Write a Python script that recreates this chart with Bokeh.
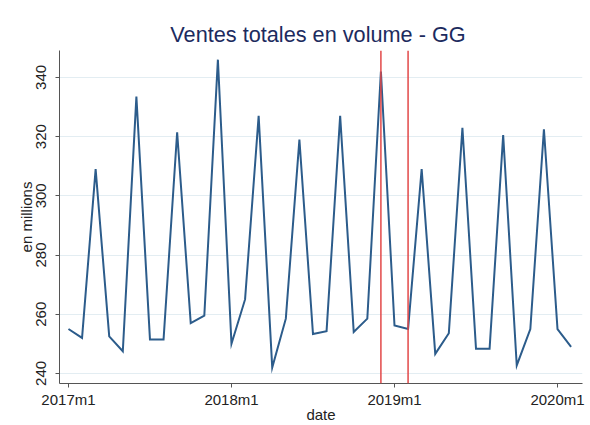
from bokeh.plotting import figure
from bokeh.models import FixedTicker, Range1d, Span
from bokeh.embed import file_html
from bokeh.resources import INLINE

# Monthly total sales volume (millions), 2017m1 .. 2020m2
month_index = list(range(38))
ventes = [255, 252, 309, 252.5, 247.5, 333.5, 251.5, 251.5, 321.5, 257, 259.5, 346,
          250, 265, 327, 242, 258.5, 319, 253.3, 254.3, 327, 254, 258.5, 342,
          256.2, 255, 309, 246.6, 253.6, 323, 248.3, 248.3, 320.5, 242.7, 255, 322.5,
          255, 249]
x_tick_pos = [0, 12, 24, 36]
x_tick_labels = ["2017m1", "2018m1", "2019m1", "2020m1"]
y_ticks = [240, 260, 280, 300, 320, 340]
event_months = [23, 25]   # 2018m12 and 2019m2

FONT = "Liberation Sans"

p = figure(width=590, height=425, output_backend="svg", toolbar_location=None,
           x_range=Range1d(-0.66, 37.84), y_range=Range1d(236.6, 349.1),
           min_border_left=59, min_border_right=8, min_border_top=50, min_border_bottom=42,
           background_fill_color="white", border_fill_color="white")
p.outline_line_color = None

p.title.text = "Ventes totales en volume  - GG"
p.title.align = "center"
p.title.text_font = FONT
p.title.text_font_size = "21.7px"
p.title.text_font_style = "normal"
p.title.text_color = "#1c2b5e"
p.title.offset = 0
p.title.standoff = 8

# grid
p.xgrid.grid_line_color = None
p.ygrid.grid_line_color = "#e3edf2"
p.ygrid.grid_line_width = 1
p.ygrid.ticker = FixedTicker(ticks=y_ticks)

# axes
for ax in (p.xaxis[0], p.yaxis[0]):
    ax.axis_line_color = "#555555"
    ax.major_tick_line_color = "#555555"
    ax.major_tick_out = 4
    ax.major_tick_in = 0
    ax.minor_tick_line_color = None
    ax.major_label_text_font = FONT
    ax.major_label_text_font_size = "15px"
    ax.major_label_text_color = "#222222"
    ax.axis_label_text_font = FONT
    ax.axis_label_text_font_size = "15px"
    ax.axis_label_text_font_style = "normal"
    ax.axis_label_text_color = "#222222"

p.xaxis.ticker = FixedTicker(ticks=x_tick_pos)
p.xaxis.major_label_overrides = {t: l for t, l in zip(x_tick_pos, x_tick_labels)}
p.xaxis.axis_label = "date"
p.xaxis.major_label_standoff = 3
p.xaxis.axis_label_standoff = -5

p.yaxis.ticker = FixedTicker(ticks=y_ticks)
p.yaxis.major_label_orientation = "vertical"
p.yaxis.axis_label = "en millions"
p.yaxis.major_label_standoff = 9
p.yaxis.axis_label_standoff = -1

p.line(month_index, ventes, line_color="#2c5c8b", line_width=2, line_join="miter")

for m in event_months:
    p.add_layout(Span(location=m, dimension="height", line_color="#e24848", line_width=1.5))

open("out.html", "w").write(file_html(p, INLINE))
